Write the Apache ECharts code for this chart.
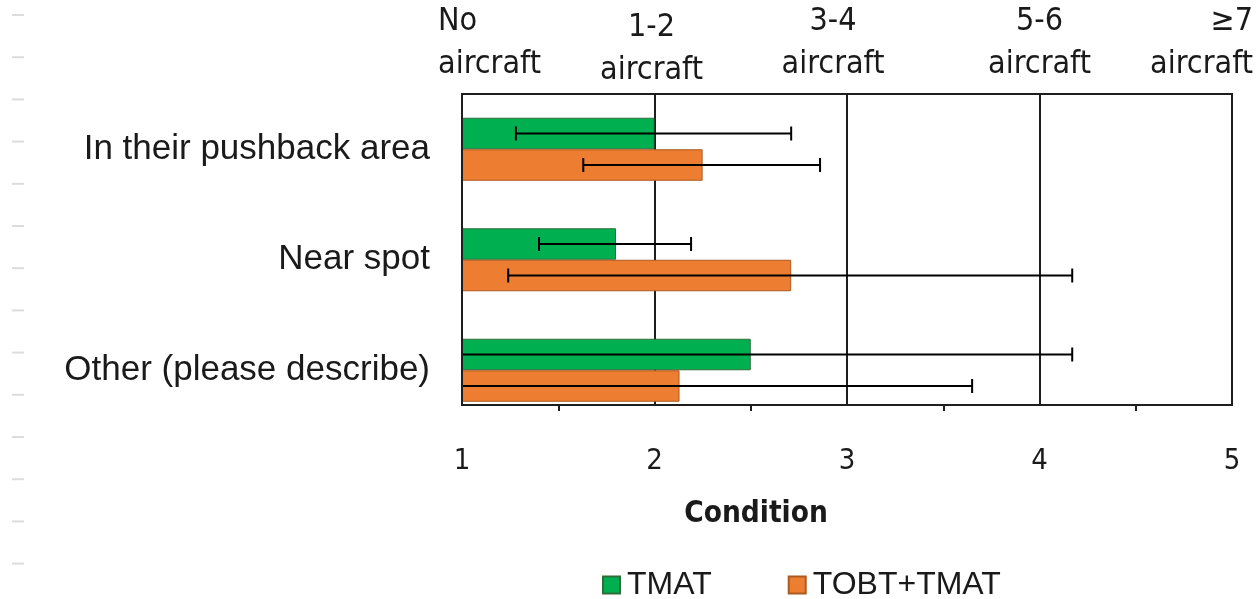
<!DOCTYPE html>
<html><head><meta charset="utf-8">
<script src="https://cdn.jsdelivr.net/npm/echarts@6/dist/echarts.min.js"></script>
<style>html,body{margin:0;padding:0;background:#fff}#c{width:1257px;height:599px}</style>
</head><body><div id="c"></div>
<script>
// ---- data ----
const categories = ['In their pushback area', 'Near spot', 'Other (please describe)'];
const seriesNames = ['TMAT', 'TOBT+TMAT'];
const tmatMean = [2.00, 1.80, 2.50];
const tmatLow  = [1.28, 1.40, 0.83];
const tmatHigh = [2.71, 2.19, 4.17];
const tobtMean = [2.25, 2.71, 2.13];
const tobtLow  = [1.63, 1.24, 0.61];
const tobtHigh = [2.86, 4.17, 3.65];
const xMin = 1, xMax = 5, xStep = 1;
const topLabels = ['No\naircraft', '1-2\naircraft', '3-4\naircraft', '5-6\naircraft', '≥7\naircraft'];
const xAxisName = 'Condition';

// ---- styles ----
const GREEN = '#00B050', GREEN_B = '#2f6e3a';
const ORANGE = '#ED7D31', ORANGE_B = '#ad5a22';
const LINE = '#1e1e1e';
const BAR_W = 31.5;
const COND = '"DejaVu Sans Condensed", "DejaVu Sans", sans-serif';
const SANS = '"Liberation Sans", Arial, sans-serif';

const chart = echarts.init(document.getElementById('c'), null, {renderer: 'canvas'});

function errRender(sign) {
  return function (params, api) {
    const cat = api.value(0), lo = api.value(1), hi = api.value(2);
    const pLo = api.coord([lo, cat]);
    const pHi = api.coord([hi, cat]);
    const y = pLo[1] + sign * BAR_W / 2;
    const cap = 7;
    const st = {stroke: '#000', lineWidth: 2};
    return {type: 'group', children: [
      {type: 'line', shape: {x1: pLo[0], y1: y, x2: pHi[0], y2: y}, style: st},
      {type: 'line', shape: {x1: pLo[0], y1: y - cap, x2: pLo[0], y2: y + cap}, style: st},
      {type: 'line', shape: {x1: pHi[0], y1: y - cap, x2: pHi[0], y2: y + cap}, style: st}
    ]};
  };
}

const option = {
  animation: false,
  backgroundColor: '#fff',
  grid: [
    {left: 462, right: 25, top: 94, height: 331.5, show: false},
    {left: 462, right: 25, top: 94, height: 311, show: true, borderColor: LINE, borderWidth: 2, backgroundColor: 'transparent'}
  ],
  xAxis: [
    {type: 'value', gridIndex: 0, min: xMin, max: xMax, interval: xStep, show: false},
    {type: 'value', gridIndex: 1, min: xMin, max: xMax, interval: xStep,
      axisLine: {show: true, lineStyle: {color: LINE, width: 2}},
      axisTick: {show: false},
      minorTick: {show: true, splitNumber: 2, length: 6, lineStyle: {color: LINE, width: 2}},
      splitLine: {show: true, lineStyle: {color: LINE, width: 2}},
      axisLabel: {margin: 42, fontFamily: COND, fontSize: 29, color: '#1a1a1a'}
    }
  ],
  yAxis: [
    {type: 'category', gridIndex: 0, data: categories, inverse: true,
      axisLine: {show: false}, axisTick: {show: false},
      axisLabel: {margin: 32, fontFamily: SANS, fontSize: 35, color: '#1a1a1a'}
    },
    {type: 'value', gridIndex: 1, min: 0, max: 1, z: 5,
      axisLine: {show: true, lineStyle: {color: LINE, width: 2}},
      axisTick: {show: false}, axisLabel: {show: false}, splitLine: {show: false}
    }
  ],
  legend: {
    data: seriesNames, left: 602, top: 569, padding: 0, icon: 'rect', itemWidth: 17, itemHeight: 17,
    itemGap: 76, textStyle: {fontFamily: SANS, fontSize: 32, color: '#1a1a1a', padding: [0, 0, 0, 2]}
  },
  series: [
    {name: seriesNames[0], type: 'bar', xAxisIndex: 0, yAxisIndex: 0, data: tmatMean,
      barWidth: BAR_W, barGap: '0%', clip: true,
      itemStyle: {color: GREEN, borderColor: GREEN_B, borderWidth: 1}},
    {name: seriesNames[1], type: 'bar', xAxisIndex: 0, yAxisIndex: 0, data: tobtMean,
      barWidth: BAR_W, barGap: '0%', clip: true,
      itemStyle: {color: ORANGE, borderColor: ORANGE_B, borderWidth: 1}},
    {type: 'custom', xAxisIndex: 0, yAxisIndex: 0, clip: true, z: 4,
      renderItem: errRender(-1), encode: {x: [1, 2], y: 0},
      data: categories.map((c, i) => [i, tmatLow[i], tmatHigh[i]])},
    {type: 'custom', xAxisIndex: 0, yAxisIndex: 0, clip: true, z: 4,
      renderItem: errRender(1), encode: {x: [1, 2], y: 0},
      data: categories.map((c, i) => [i, tobtLow[i], tobtHigh[i]])}
  ]
};
chart.setOption(option);

// top category-description labels and axis title, placed from the axis scale
const aligns = ['left', 'center', 'center', 'center', 'right'];
const dx = [-24, -3, -14, 0, 21];
const dy = [0, 6, 0, 0, 0];
const graphics = [];
for (let i = 0; i < topLabels.length; i++) {
  const px = chart.convertToPixel({xAxisIndex: 1}, xMin + i * xStep);
  graphics.push({type: 'text', x: px + dx[i], y: dy[i],
    style: {text: topLabels[i], align: aligns[i], verticalAlign: 'top', lineHeight: 43,
      font: '32px ' + COND, fill: '#1a1a1a'}});
}
graphics.push({type: 'text', x: 756, y: 514,
  style: {text: xAxisName, align: 'center', verticalAlign: 'middle',
    font: 'bold 29.5px ' + COND, fill: '#1a1a1a'}});
// faint dashes on the left margin
for (let k = 0; k < 14; k++) {
  const y = 15 + k * 42.2;
  graphics.push({type: 'line', shape: {x1: 12, y1: y, x2: 24, y2: y}, style: {stroke: '#dcdcdc', lineWidth: 2}});
}
chart.setOption({graphic: graphics});
</script>
</body></html>
